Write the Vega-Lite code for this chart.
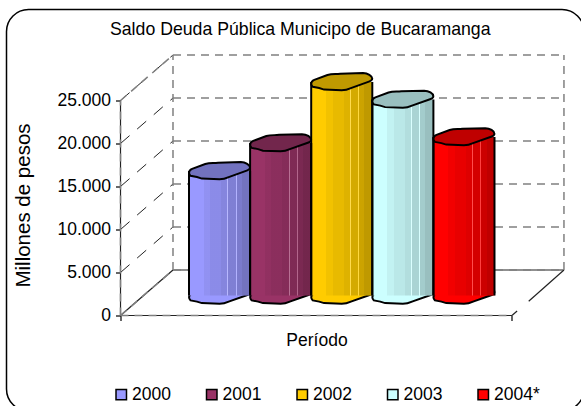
{
"$schema":"https://vega.github.io/schema/vega-lite/v6.json",
"width":577.5,"height":401.5,
"autosize":{"type":"none"},
"padding":{"left":6.5,"top":9.5,"right":-3,"bottom":-5},
"background":"white",
"view":{"stroke":"black","strokeWidth":1.5,"cornerRadius":22,"fill":"white"},
"config":{"font":"Liberation Sans"},
"title":{"text":"Saldo Deuda Pública Municipo de Bucaramanga","font":"Liberation Sans","fontSize":17.7,"fontWeight":"normal","color":"black","anchor":"middle","frame":"group","offset":-29,"dx":5},
"datasets":{
"bars":[
{"periodo":"2000","x0":2000,"x1":2001,"mid":2000.5,"value":14480},
{"periodo":"2001","x0":2001,"x1":2002,"mid":2001.5,"value":17730},
{"periodo":"2002","x0":2002,"x1":2003,"mid":2002.5,"value":24830},
{"periodo":"2003","x0":2003,"x1":2004,"mid":2003.5,"value":22790},
{"periodo":"2004*","x0":2004,"x1":2005,"mid":2004.5,"value":18430}],
"wall":[
{"id":"b0","x":1999.738,"y":5291},{"id":"b0","x":2006.137,"y":5291},
{"id":"b5","x":1999.738,"y":10291},{"id":"b5","x":2006.137,"y":10291},
{"id":"b10","x":1999.738,"y":15291},{"id":"b10","x":2006.137,"y":15291},
{"id":"b15","x":1999.738,"y":20291},{"id":"b15","x":2006.137,"y":20291},
{"id":"b20","x":1999.738,"y":25291},{"id":"b20","x":2006.137,"y":25291},
{"id":"b25","x":1999.738,"y":30291},{"id":"b25","x":2006.137,"y":30291},
{"id":"vl","x":1999.738,"y":5291},{"id":"vl","x":1999.738,"y":30291},
{"id":"vr","x":2006.137,"y":5291},{"id":"vr","x":2006.137,"y":30291},
{"id":"vf","x":1998.879,"y":0},{"id":"vf","x":1998.879,"y":25000},
{"id":"d0","x":1998.879,"y":0},{"id":"d0","x":1999.738,"y":5291},
{"id":"d25","x":1998.879,"y":25000},{"id":"d25","x":1999.738,"y":30291},
{"id":"f0","x":1998.879,"y":0},{"id":"f0","x":2005.286,"y":0}],
"side":[
{"id":"d5","x":1998.879,"y":5000},{"id":"d5","x":1999.738,"y":10291},
{"id":"d10","x":1998.879,"y":10000},{"id":"d10","x":1999.738,"y":15291},
{"id":"d15","x":1998.879,"y":15000},{"id":"d15","x":1999.738,"y":20291},
{"id":"d20","x":1998.879,"y":20000},{"id":"d20","x":1999.738,"y":25291},
{"id":"d25","x":1998.879,"y":25000},{"id":"d25","x":1999.738,"y":30291}],
"solid":[
{"id":"ax","x":1998.879,"y":0},{"id":"ax","x":1998.879,"y":25000},
{"id":"fl","x":1998.879,"y":0},{"id":"fl","x":2005.286,"y":0},
{"id":"dl","x":1998.879,"y":0},{"id":"dl","x":1999.738,"y":5291},
{"id":"b0","x":1999.738,"y":5291},{"id":"b0","x":2006.137,"y":5291},
{"id":"dr1","x":2005.286,"y":0},{"id":"dr1","x":2005.37,"y":520},
{"id":"dr2","x":2005.56,"y":1650},{"id":"dr2","x":2006.137,"y":5291}]
},
"layer":[
{"data":{"name":"solid"},
 "mark":{"type":"line","color":"#222222","strokeWidth":1.2},
 "encoding":{
  "x":{"field":"x","type":"quantitative","scale":{"domain":[1997.013,2006.465],"nice":false,"zero":false},
   "axis":{"orient":"bottom","offset":-95.5,"values":[1998.879,2005.286],"labels":false,"domain":false,"grid":false,"tickColor":"black","tickSize":5,"tickWidth":1.2,"title":"Período","titleFont":"Liberation Sans","titleFontSize":17.5,"titleFontWeight":"normal","titleColor":"black","titleX":310,"titleY":30,"titleAnchor":"middle","titleAlign":"center","titleBaseline":"alphabetic"}},
  "y":{"field":"y","type":"quantitative","scale":{"domain":[-11105,35581],"nice":false,"zero":false},
   "axis":{"orient":"left","offset":-114,"values":[0,5000,10000,15000,20000,25000],"domain":false,"grid":false,"tickColor":"black","tickSize":5,"tickWidth":1.2,"labelFont":"Liberation Sans","labelFontSize":17.5,"labelColor":"black","labelPadding":5,"labelExpr":"replace(format(datum.value, ','), ',', '.')","title":"Millones de pesos","titleFont":"Liberation Sans","titleFontSize":20.5,"titleFontWeight":"normal","titleColor":"black","titleX":-97,"titleY":195.5,"titleAlign":"center","titleBaseline":"middle","titleAngle":-90}},
  "detail":{"field":"id"}}},
{"data":{"name":"side"},
 "mark":{"type":"line","color":"#222222","strokeWidth":1,"strokeDash":[12,10]},
 "encoding":{"x":{"field":"x","type":"quantitative"},"y":{"field":"y","type":"quantitative"},"detail":{"field":"id"}}},
{"data":{"name":"wall"},
 "mark":{"type":"line","color":"#808080","strokeWidth":1.5,"strokeDash":[8,6]},
 "encoding":{"x":{"field":"x","type":"quantitative"},"y":{"field":"y","type":"quantitative"},"detail":{"field":"id"}}},
{"data":{"name":"bars"},
 "mark":{"type":"point","filled":true,"opacity":1,"size":3721,"yOffset":-20,"stroke":"black","strokeWidth":2,"shape":"M-1 .06C-1 0 -.98 -.04 -.9 -.07L-.47 -.23C-.3 -.27 -.2 -.25 -.05 -.27L.7 -.29C.85 -.29 1 -.2 1 -.11C1 -.06 .95 -.03 .89 -.01L.3 .2C.15 .27 .1 .27 .0 .27L-.58 .25L-.74 .2L-.95 .16C-1 .12 -1 .1 -1 .06Z"},
 "encoding":{"x":{"field":"mid","type":"quantitative"},"y":{"datum":0,"type":"quantitative"},
  "fill":{"field":"periodo","type":"nominal"}}},
{"data":{"name":"bars"},
 "mark":{"type":"rect","yOffset":-20,"y2Offset":-20},
 "encoding":{"x":{"field":"x0","type":"quantitative"},"x2":{"field":"x1"},"y":{"field":"value","type":"quantitative"},"y2":{"datum":0},
  "fill":{"field":"periodo","type":"nominal","title":null,
   "scale":{"domain":["2000","2001","2002","2003","2004*"],"range":["#9999FF","#993366","#FFCC00","#CCFFFF","#FF0000"]},
   "legend":{"orient":"none","direction":"horizontal","columns":5,"legendX":106,"legendY":376,"symbolType":"square","symbolSize":110,"symbolStrokeColor":"black","symbolStrokeWidth":1.5,"symbolOpacity":1,"labelFont":"Liberation Sans","labelFontSize":17.5,"labelColor":"black","labelOffset":2,"columnPadding":31.5,"padding":0,"title":null}}}},
{"data":{"name":"bars"},
 "mark":{"type":"rect","yOffset":-20,"y2Offset":-20,"fill":{"gradient":"linear","x1":0,"x2":1,"y1":0,"y2":0,"stops":[
  {"offset":0,"color":"rgba(0,0,0,0)"},{"offset":0.24,"color":"rgba(0,0,0,0)"},
  {"offset":0.24,"color":"rgba(0,0,0,0.05)"},{"offset":0.35,"color":"rgba(0,0,0,0.05)"},
  {"offset":0.35,"color":"rgba(0,0,0,0.09)"},{"offset":0.53,"color":"rgba(0,0,0,0.09)"},
  {"offset":0.53,"color":"rgba(0,0,0,0.13)"},{"offset":0.63,"color":"rgba(0,0,0,0.13)"},
  {"offset":0.63,"color":"rgba(255,255,255,0.3)"},{"offset":0.645,"color":"rgba(255,255,255,0.3)"},
  {"offset":0.645,"color":"rgba(0,0,0,0.17)"},{"offset":0.77,"color":"rgba(0,0,0,0.17)"},
  {"offset":0.77,"color":"rgba(255,255,255,0.25)"},{"offset":0.785,"color":"rgba(255,255,255,0.25)"},
  {"offset":0.785,"color":"rgba(0,0,0,0.2)"},{"offset":0.87,"color":"rgba(0,0,0,0.2)"},
  {"offset":0.87,"color":"rgba(0,0,0,0.25)"},{"offset":1,"color":"rgba(0,0,0,0.25)"}]}},
 "encoding":{"x":{"field":"x0","type":"quantitative"},"x2":{"field":"x1"},"y":{"field":"value","type":"quantitative"},"y2":{"datum":0}}},
{"data":{"name":"bars"},
 "mark":{"type":"rule","color":"black","strokeWidth":2,"yOffset":-20,"y2Offset":-20},
 "encoding":{"x":{"field":"x0","type":"quantitative"},"y":{"field":"value","type":"quantitative"},"y2":{"datum":0}}},
{"data":{"name":"bars"},
 "mark":{"type":"rule","color":"black","strokeWidth":2,"yOffset":-20,"y2Offset":-20},
 "encoding":{"x":{"field":"x1","type":"quantitative"},"y":{"field":"value","type":"quantitative"},"y2":{"datum":0}}},
{"data":{"name":"bars"},
 "mark":{"type":"point","filled":true,"opacity":1,"size":3721,"yOffset":-20,"shape":"M-1 .06C-1 0 -.98 -.04 -.9 -.07L-.47 -.23C-.3 -.27 -.2 -.25 -.05 -.27L.7 -.29C.85 -.29 1 -.2 1 -.11C1 -.06 .95 -.03 .89 -.01L.3 .2C.15 .27 .1 .27 .0 .27L-.58 .25L-.74 .2L-.95 .16C-1 .12 -1 .1 -1 .06Z"},
 "encoding":{"x":{"field":"mid","type":"quantitative"},"y":{"field":"value","type":"quantitative"},
  "fill":{"field":"periodo","type":"nominal"}}},
{"data":{"name":"bars"},
 "mark":{"type":"point","filled":true,"fill":"black","fillOpacity":0.25,"opacity":1,"size":3721,"yOffset":-20,"stroke":"black","strokeWidth":2,"strokeOpacity":1,"shape":"M-1 .06C-1 0 -.98 -.04 -.9 -.07L-.47 -.23C-.3 -.27 -.2 -.25 -.05 -.27L.7 -.29C.85 -.29 1 -.2 1 -.11C1 -.06 .95 -.03 .89 -.01L.3 .2C.15 .27 .1 .27 .0 .27L-.58 .25L-.74 .2L-.95 .16C-1 .12 -1 .1 -1 .06Z"},
 "encoding":{"x":{"field":"mid","type":"quantitative"},"y":{"field":"value","type":"quantitative"}}}
]
}
